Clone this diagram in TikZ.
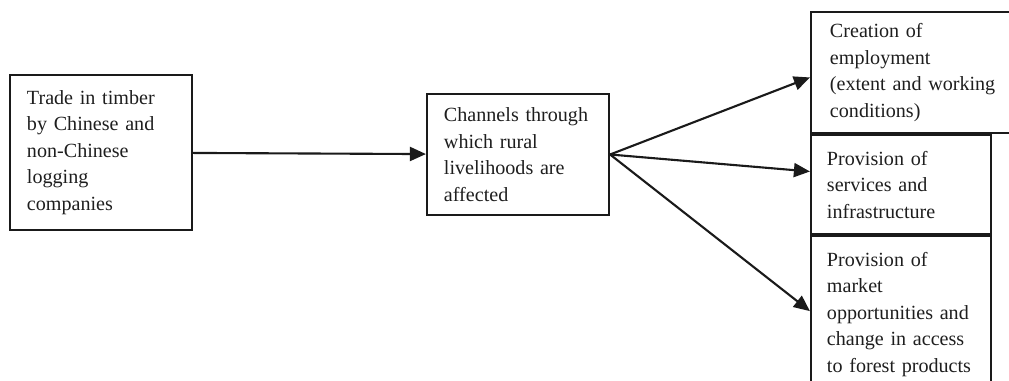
\documentclass[tikz,border=0pt]{standalone}
\usepackage{fontspec}
\setmainfont{Liberation Serif}
\usetikzlibrary{arrows.meta, positioning, calc}
\definecolor{cline}{HTML}{1A1A1A}
\definecolor{ctext}{HTML}{1E1E1E}
\tikzset{
  every picture/.style={line width=1.5pt},
  box/.style={draw=cline, rectangle, align=left, inner sep=0pt, text width=3.7cm,
    minimum width=4.5cm, text=ctext, font=\fontsize{14.3}{18.8}\selectfont},
  arrow/.style={-{Triangle[length=4mm, width=3.5mm]}, draw=cline, line width=1.5pt},
}

\begin{document}
\begin{tikzpicture}[x=0.025cm, y=-0.025cm]
  \clip (0,0) rectangle (1009,381);
  \node[box, minimum width=4.55cm, minimum height=3.875cm] (trade) at (101,152.5)
    {Trade in timber\\by Chinese and\\non-Chinese\\logging\\companies};
  \node[box, minimum width=4.55cm, minimum height=3.025cm] (channels) at (518,154.5)
    {Channels through\\which rural\\livelihoods are\\affected};
  % outcome boxes, stacked on the right
  \node[box, text width=4.75cm, minimum width=5.7cm, minimum height=3.025cm] (employ) at (925,72.5)
    {Creation of\\employment\\(extent and working\\conditions)};
  \node[box, anchor=north west, minimum height=2.475cm] (services) at (employ.south west)
    {Provision of\\services and\\infrastructure};
  \node[box, anchor=north west, minimum height=3.9cm] (market) at (services.south west)
    {Provision of\\market\\opportunities and\\change in access\\to forest products};
  \draw[arrow] (trade) -- (channels);
  \draw[arrow] (channels.east) -- ($(employ.north west)!0.54!(employ.south west)$);
  \draw[arrow] (channels.east) -- ($(services.north west)!0.37!(services.south west)$);
  \draw[arrow] (channels.east) -- ($(market.north west)!0.48!(market.south west)$);
\end{tikzpicture}
\end{document}
